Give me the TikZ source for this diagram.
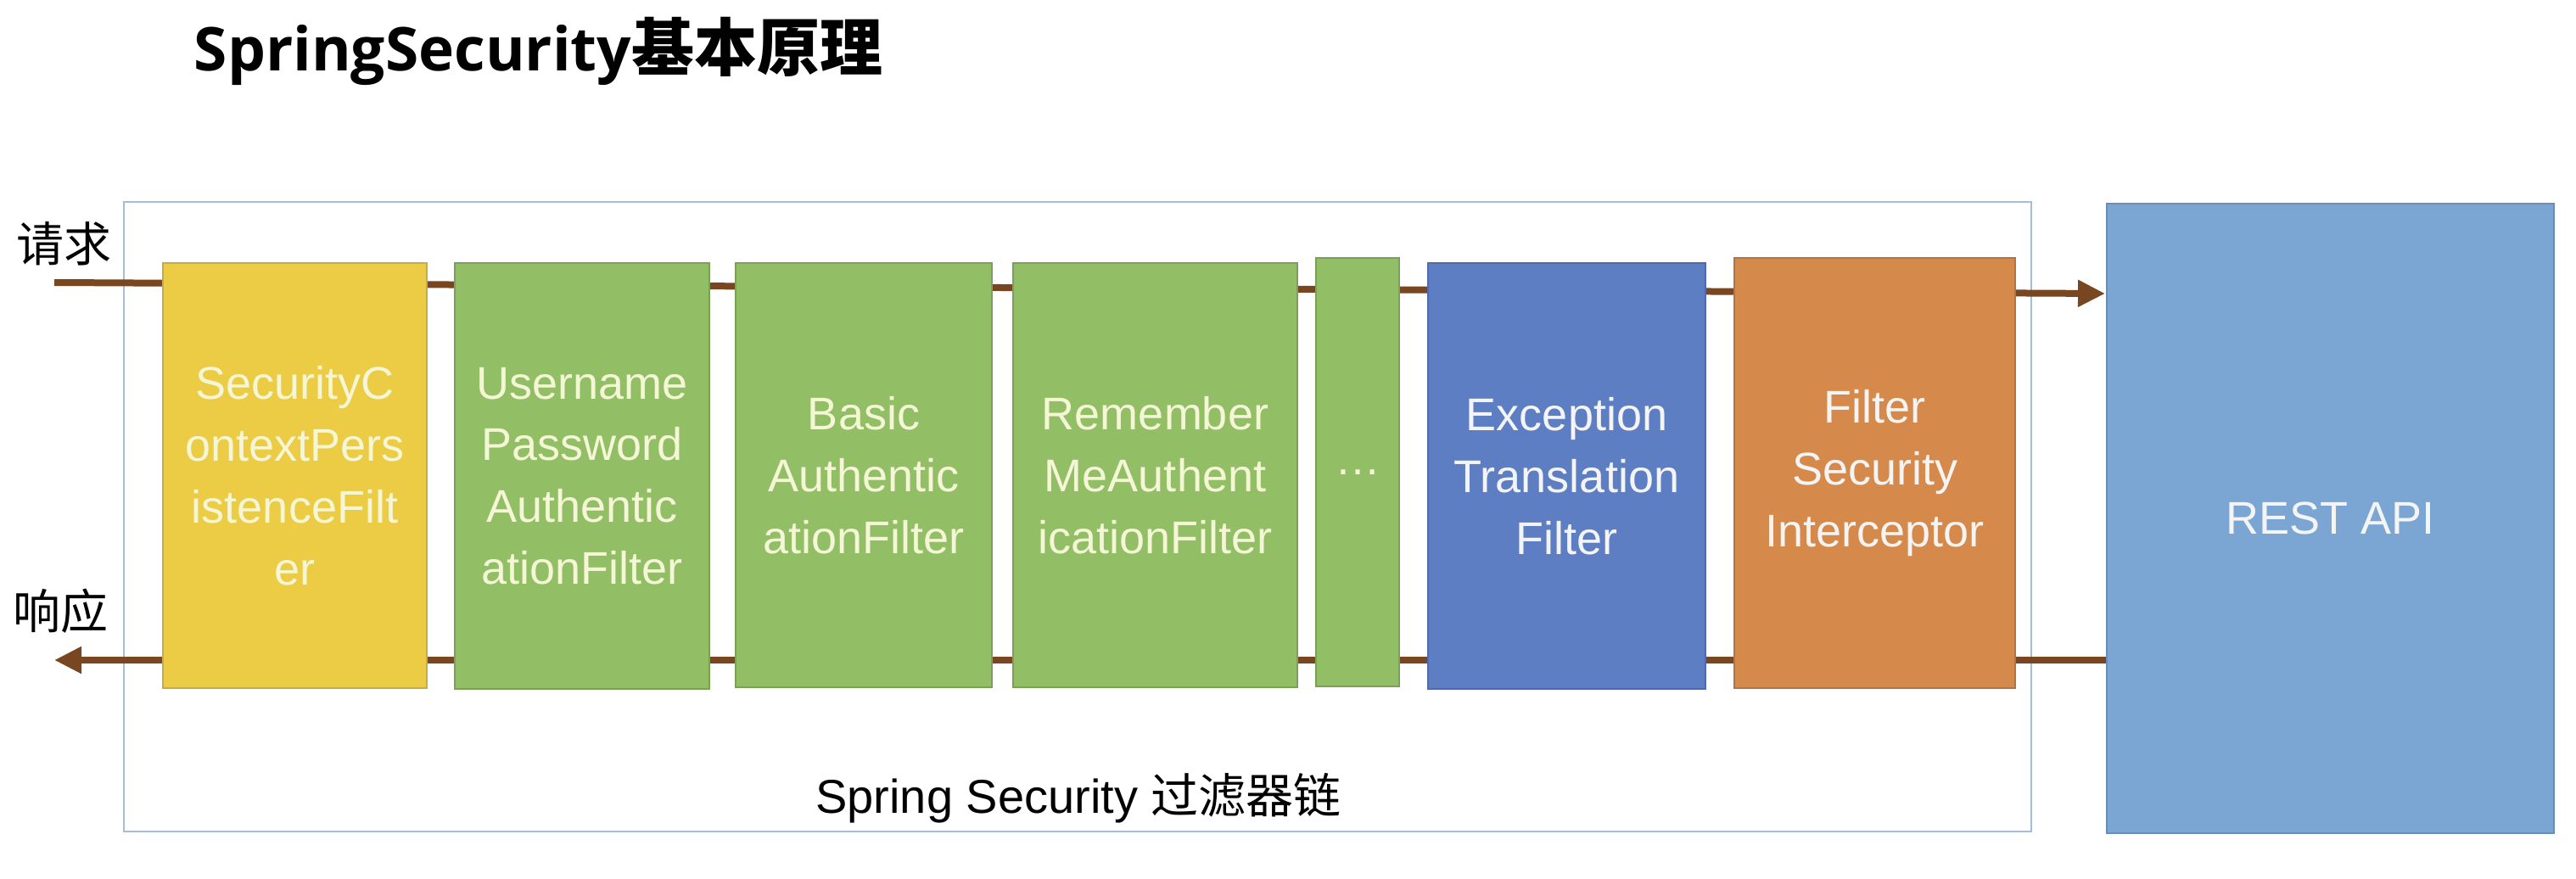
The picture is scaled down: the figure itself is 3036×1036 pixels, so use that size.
\documentclass[tikz,border=0pt]{standalone}
\usepackage{fontspec}
\usetikzlibrary{arrows.meta,backgrounds}
\newfontfamily\boxfont{Liberation Sans}
\newfontfamily\cjk{Noto Sans CJK SC}
\newfontfamily\titlelat{Open Sans}
\definecolor{cyellow}{RGB}{236,203,69}
\definecolor{cgreen}{RGB}{146,190,101}
\definecolor{cblue}{RGB}{94,126,196}
\definecolor{corange}{RGB}{213,137,74}
\definecolor{crest}{RGB}{123,166,212}
\definecolor{cbrown}{RGB}{120,70,32}
\definecolor{cframe}{RGB}{164,189,222}
\definecolor{ctxtlight}{RGB}{244,246,214}
\definecolor{ctxtwhite}{RGB}{244,244,244}
\tikzset{
  fbox/.style={draw=#1!85!black, fill=#1, line width=0.4pt, inner sep=0pt, align=center,
    font=\boxfont\fontsize{13.5}{18.2}\selectfont},
  flow/.style={draw=cbrown, line width=2pt, -{Triangle[length=8pt,width=7.5pt]}},
  side/.style={font=\cjk\fontsize{14}{16}\selectfont, anchor=west, inner sep=0pt}
}
\begin{document}
\begin{tikzpicture}[x=0.25pt,y=-0.25pt]
\useasboundingbox (0,0) rectangle (3036,1036);
% title
\node[anchor=west, inner sep=0pt] (title) at (228,60)
  {\titlelat\bfseries\fontsize{17.8}{20}\selectfont SpringSecurity{\cjk\bfseries\fontsize{18.5}{20}\selectfont 基本原理}};
% side labels
\node[side] (req) at (19,287) {请求};
\node[side] (resp) at (15,720) {响应};
% filters
\node[fbox=cyellow, text=ctxtlight, minimum width=77.75pt, minimum height=125.25pt] (f1) at (347.5,560.5)
  {SecurityC\\ontextPers\\istenceFilt\\er};
\node[fbox=cgreen, text=ctxtlight, minimum width=75pt, minimum height=125.5pt] (f2) at (686,561)
  {Username\\Password\\Authentic\\ationFilter};
\node[fbox=cgreen, text=ctxtlight, minimum width=75.5pt, minimum height=125pt] (f3) at (1018,560)
  {Basic\\Authentic\\ationFilter};
\node[fbox=cgreen, text=ctxtlight, minimum width=83.75pt, minimum height=125pt] (f4) at (1361.5,560)
  {Remember\\MeAuthent\\icationFilter};
\node[fbox=cgreen, text=ctxtlight, minimum width=24.5pt, minimum height=126.25pt] (f5) at (1600,556.5)
  {…};
\node[fbox=cblue, text=ctxtwhite, minimum width=81.75pt, minimum height=125.5pt] (f6) at (1846.5,561)
  {Exception\\Translation\\Filter};
\node[fbox=corange, text=ctxtwhite, minimum width=82.75pt, minimum height=126.75pt] (f7) at (2209.5,557.5)
  {Filter\\Security\\Interceptor};
\node[fbox=crest, text=ctxtwhite, minimum width=131.75pt, minimum height=185.5pt] (rest) at (2746.5,611)
  {REST API};
\node[font=\boxfont\fontsize{14}{16}\selectfont, inner sep=0pt] (chainlabel) at (1271,941)
  {Spring Security {\cjk 过滤器链}};
\coordinate (reqin) at (64,333);
\coordinate (reqout) at (2481,346);
\coordinate (respout) at (64,778);
\begin{pgfonlayer}{background}
  \fill[white] (0,0) rectangle (3036,1036);
  \node[draw=cframe, line width=0.6pt, minimum width=562pt, minimum height=185.5pt, inner sep=0pt] (chain) at (1270,609) {};
  \draw[flow] (reqin) -- (reqout);
  \draw[flow] (rest.west |- respout) -- (respout);
\end{pgfonlayer}
\end{tikzpicture}
\end{document}
